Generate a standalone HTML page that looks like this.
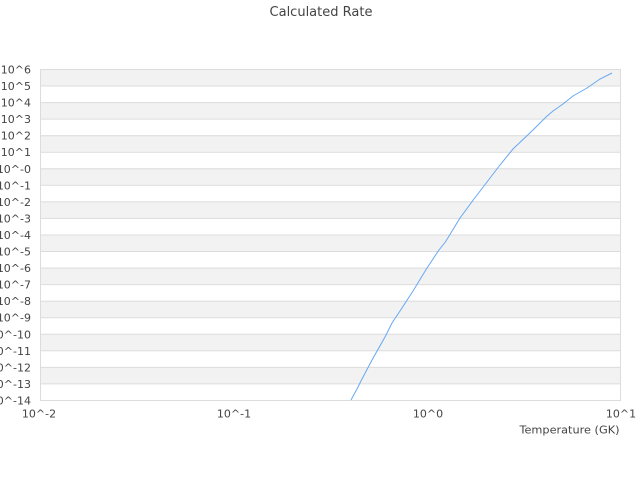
<!DOCTYPE html>
<html>
<head>
<meta charset="utf-8">
<style>
html,body{margin:0;padding:0;background:#fff;width:640px;height:480px;overflow:hidden;}
svg{display:block;}
text{font-family:"DejaVu Sans","Liberation Sans",sans-serif;fill:#444;}
</style>
</head>
<body>
<svg width="640" height="480" viewBox="0 0 640 480" xmlns="http://www.w3.org/2000/svg">
<rect x="0" y="0" width="640" height="480" fill="#fff"/>
<text x="321" y="16" font-size="13" text-anchor="middle" fill="#444">Calculated Rate</text>
<!-- bands -->
<g fill="#f2f2f2">
<rect x="40" y="69" width="580" height="16.55"/>
<rect x="40" y="102.1" width="580" height="16.55"/>
<rect x="40" y="135.2" width="580" height="16.55"/>
<rect x="40" y="168.3" width="580" height="16.55"/>
<rect x="40" y="201.4" width="580" height="16.55"/>
<rect x="40" y="234.5" width="580" height="16.55"/>
<rect x="40" y="267.6" width="580" height="16.55"/>
<rect x="40" y="300.7" width="580" height="16.55"/>
<rect x="40" y="333.8" width="580" height="16.55"/>
<rect x="40" y="366.9" width="580" height="16.55"/>
</g>
<!-- grid lines -->
<g stroke="#dcdcdc" stroke-width="1">
<line x1="40" y1="69.5" x2="620" y2="69.5"/>
<line x1="40" y1="86" x2="620" y2="86"/>
<line x1="40" y1="102.6" x2="620" y2="102.6"/>
<line x1="40" y1="119.1" x2="620" y2="119.1"/>
<line x1="40" y1="135.7" x2="620" y2="135.7"/>
<line x1="40" y1="152.2" x2="620" y2="152.2"/>
<line x1="40" y1="168.8" x2="620" y2="168.8"/>
<line x1="40" y1="185.3" x2="620" y2="185.3"/>
<line x1="40" y1="201.9" x2="620" y2="201.9"/>
<line x1="40" y1="218.4" x2="620" y2="218.4"/>
<line x1="40" y1="235" x2="620" y2="235"/>
<line x1="40" y1="251.5" x2="620" y2="251.5"/>
<line x1="40" y1="268.1" x2="620" y2="268.1"/>
<line x1="40" y1="284.6" x2="620" y2="284.6"/>
<line x1="40" y1="301.2" x2="620" y2="301.2"/>
<line x1="40" y1="317.7" x2="620" y2="317.7"/>
<line x1="40" y1="334.3" x2="620" y2="334.3"/>
<line x1="40" y1="350.8" x2="620" y2="350.8"/>
<line x1="40" y1="367.4" x2="620" y2="367.4"/>
<line x1="40" y1="383.9" x2="620" y2="383.9"/>
<line x1="40" y1="400.5" x2="620" y2="400.5"/>
<line x1="40.5" y1="69" x2="40.5" y2="401"/>
<line x1="620.5" y1="69" x2="620.5" y2="401"/>
</g>
<!-- curve -->
<polyline fill="none" stroke="#66a8f2" stroke-width="1" points="351,400 357,389 362,379 372,360 385,337 392,323 400,311 413,291 427,268 439,250 446,241 460,218 474,199 487,182 500,165 513,149 533,130 546,117 553,111 563,104 573,96 587,88 600,79 612,73"/>
<!-- y labels -->
<g font-size="11" text-anchor="end">
<text x="31" y="73.5">10^6</text>
<text x="31" y="90">10^5</text>
<text x="31" y="106.6">10^4</text>
<text x="31" y="123.1">10^3</text>
<text x="31" y="139.7">10^2</text>
<text x="31" y="156.2">10^1</text>
<text x="31" y="172.8">10^-0</text>
<text x="31" y="189.3">10^-1</text>
<text x="31" y="205.9">10^-2</text>
<text x="31" y="222.4">10^-3</text>
<text x="31" y="239">10^-4</text>
<text x="31" y="255.5">10^-5</text>
<text x="31" y="272.1">10^-6</text>
<text x="31" y="288.6">10^-7</text>
<text x="31" y="305.2">10^-8</text>
<text x="31" y="321.7">10^-9</text>
<text x="31" y="338.3">10^-10</text>
<text x="31" y="354.8">10^-11</text>
<text x="31" y="371.4">10^-12</text>
<text x="31" y="387.9">10^-13</text>
<text x="31" y="404.5">10^-14</text>
</g>
<!-- x labels -->
<g font-size="11" text-anchor="middle">
<text x="39" y="417.5">10^-2</text>
<text x="234" y="417.5">10^-1</text>
<text x="428" y="417.5">10^0</text>
<text x="621" y="417.5">10^1</text>
</g>
<text x="619.5" y="433.5" font-size="11" text-anchor="end" textLength="100" lengthAdjust="spacingAndGlyphs">Temperature (GK)</text>
</svg>
</body>
</html>
